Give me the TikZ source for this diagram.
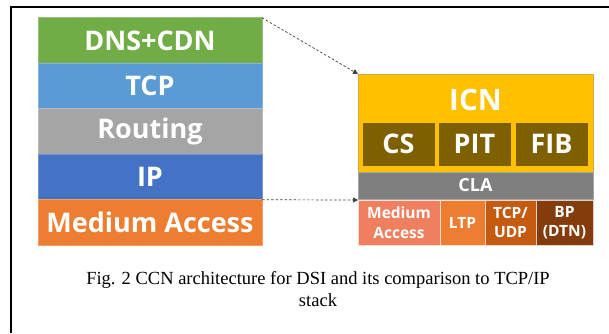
\documentclass[tikz,border=0pt]{standalone}
\usepackage{fontspec}
\setmainfont{Liberation Serif}
\newfontfamily\boxfont{Open Sans}[BoldFont={Open Sans Bold}]
\usetikzlibrary{arrows.meta}
\definecolor{cgreen}{HTML}{70AD47}
\definecolor{cblue}{HTML}{5B9BD5}
\definecolor{cgray}{HTML}{A5A5A5}
\definecolor{cdblue}{HTML}{4472C4}
\definecolor{corange}{HTML}{ED7D31}
\definecolor{cgold}{HTML}{FFC000}
\definecolor{cgoldb}{HTML}{D2A645}
\definecolor{colive}{HTML}{7F6000}
\definecolor{cclagray}{HTML}{7F7F7F}
\definecolor{csalmon}{HTML}{EF7F5E}
\definecolor{crust}{HTML}{C55A11}
\definecolor{cbrown}{HTML}{843C0C}
\definecolor{carrow}{HTML}{404040}
\tikzset{
  layer/.style={rectangle, inner sep=0pt, outer sep=0pt, text=white,
    font=\boxfont\bfseries\fontsize{27}{30}\selectfont, align=center},
  stackbox/.style={layer, minimum width=224pt, minimum height=45.5pt, draw=#1!75!white, fill=#1, line width=0.6pt},
  smallbox/.style={layer, minimum width=71pt, minimum height=42pt, fill=colive, draw=colive},
  cellbox/.style={layer, minimum height=45pt, font=\boxfont\bfseries\fontsize{15.5}{19.5}\selectfont, line width=0.6pt, draw=white!75!#1, fill=#1},
  linkarrow/.style={draw=carrow, line width=0.7pt, dash pattern=on 2.5pt off 2pt, -{Triangle[length=5pt,width=5pt]}},
}
\begin{document}
\begin{tikzpicture}[x=1pt,y=-1pt]
\useasboundingbox (0,0) rectangle (609,333);
% frame
\draw[line width=2pt] (11,333) -- (11,7) -- (609,7);
% left stack
\node[stackbox=cgreen]  (dns) at (150,40.5)  {DNS+CDN};
\node[stackbox=cblue]   (tcp) at (150,86)    {TCP};
\node[stackbox=cgray]   (rt)  at (150,131.5) {Routing};
\node[stackbox=cdblue]  (ip)  at (150,177)   {IP};
\node[stackbox=corange] (lma) at (150,222.5) {Medium Access};
% ICN block
\node[rectangle, minimum width=235pt, minimum height=98pt, fill=cgold, draw=cgoldb, line width=0.6pt, inner sep=0pt, outer sep=0pt] (icn) at (475.5,123) {};
\node[layer, font=\boxfont\bfseries\fontsize{29.5}{32}\selectfont] (icnt) at (475.5,100) {ICN};
\node[smallbox] (cs)  at (398.5,144) {CS};
\node[smallbox] (pit) at (474.5,144) {PIT};
\node[smallbox] (fib) at (551.5,144) {FIB};
\node[layer, minimum width=235pt, minimum height=27pt, fill=cclagray, draw=cclagray!70!white, line width=0.6pt, font=\boxfont\bfseries\fontsize{18}{20}\selectfont] (cla) at (475.5,185.5) {CLA};
% bottom row
\node[cellbox=csalmon, minimum width=82pt] (rma) at (399,222.5)   {Medium\\Access};
\node[cellbox=corange, minimum width=45pt] (ltp) at (462.5,222.5) {LTP};
\node[cellbox=crust,   minimum width=51pt] (udp) at (510.5,222.5) {TCP/\\UDP};
\node[cellbox=cbrown,  minimum width=57pt] (bp)  at (564.5,222.5) {BP\\(DTN)};
% arrows
\draw[linkarrow] (dns.north east) -- (icn.north west);
\draw[linkarrow] (ip.south east) -- (rma.north west);
% caption
\node[font=\fontsize{18.5}{22}\selectfont, align=center, inner sep=0pt] (cap) at (318,289) {Fig. 2 CCN architecture for DSI and its comparison to TCP/IP\\stack};
\end{tikzpicture}
\end{document}
